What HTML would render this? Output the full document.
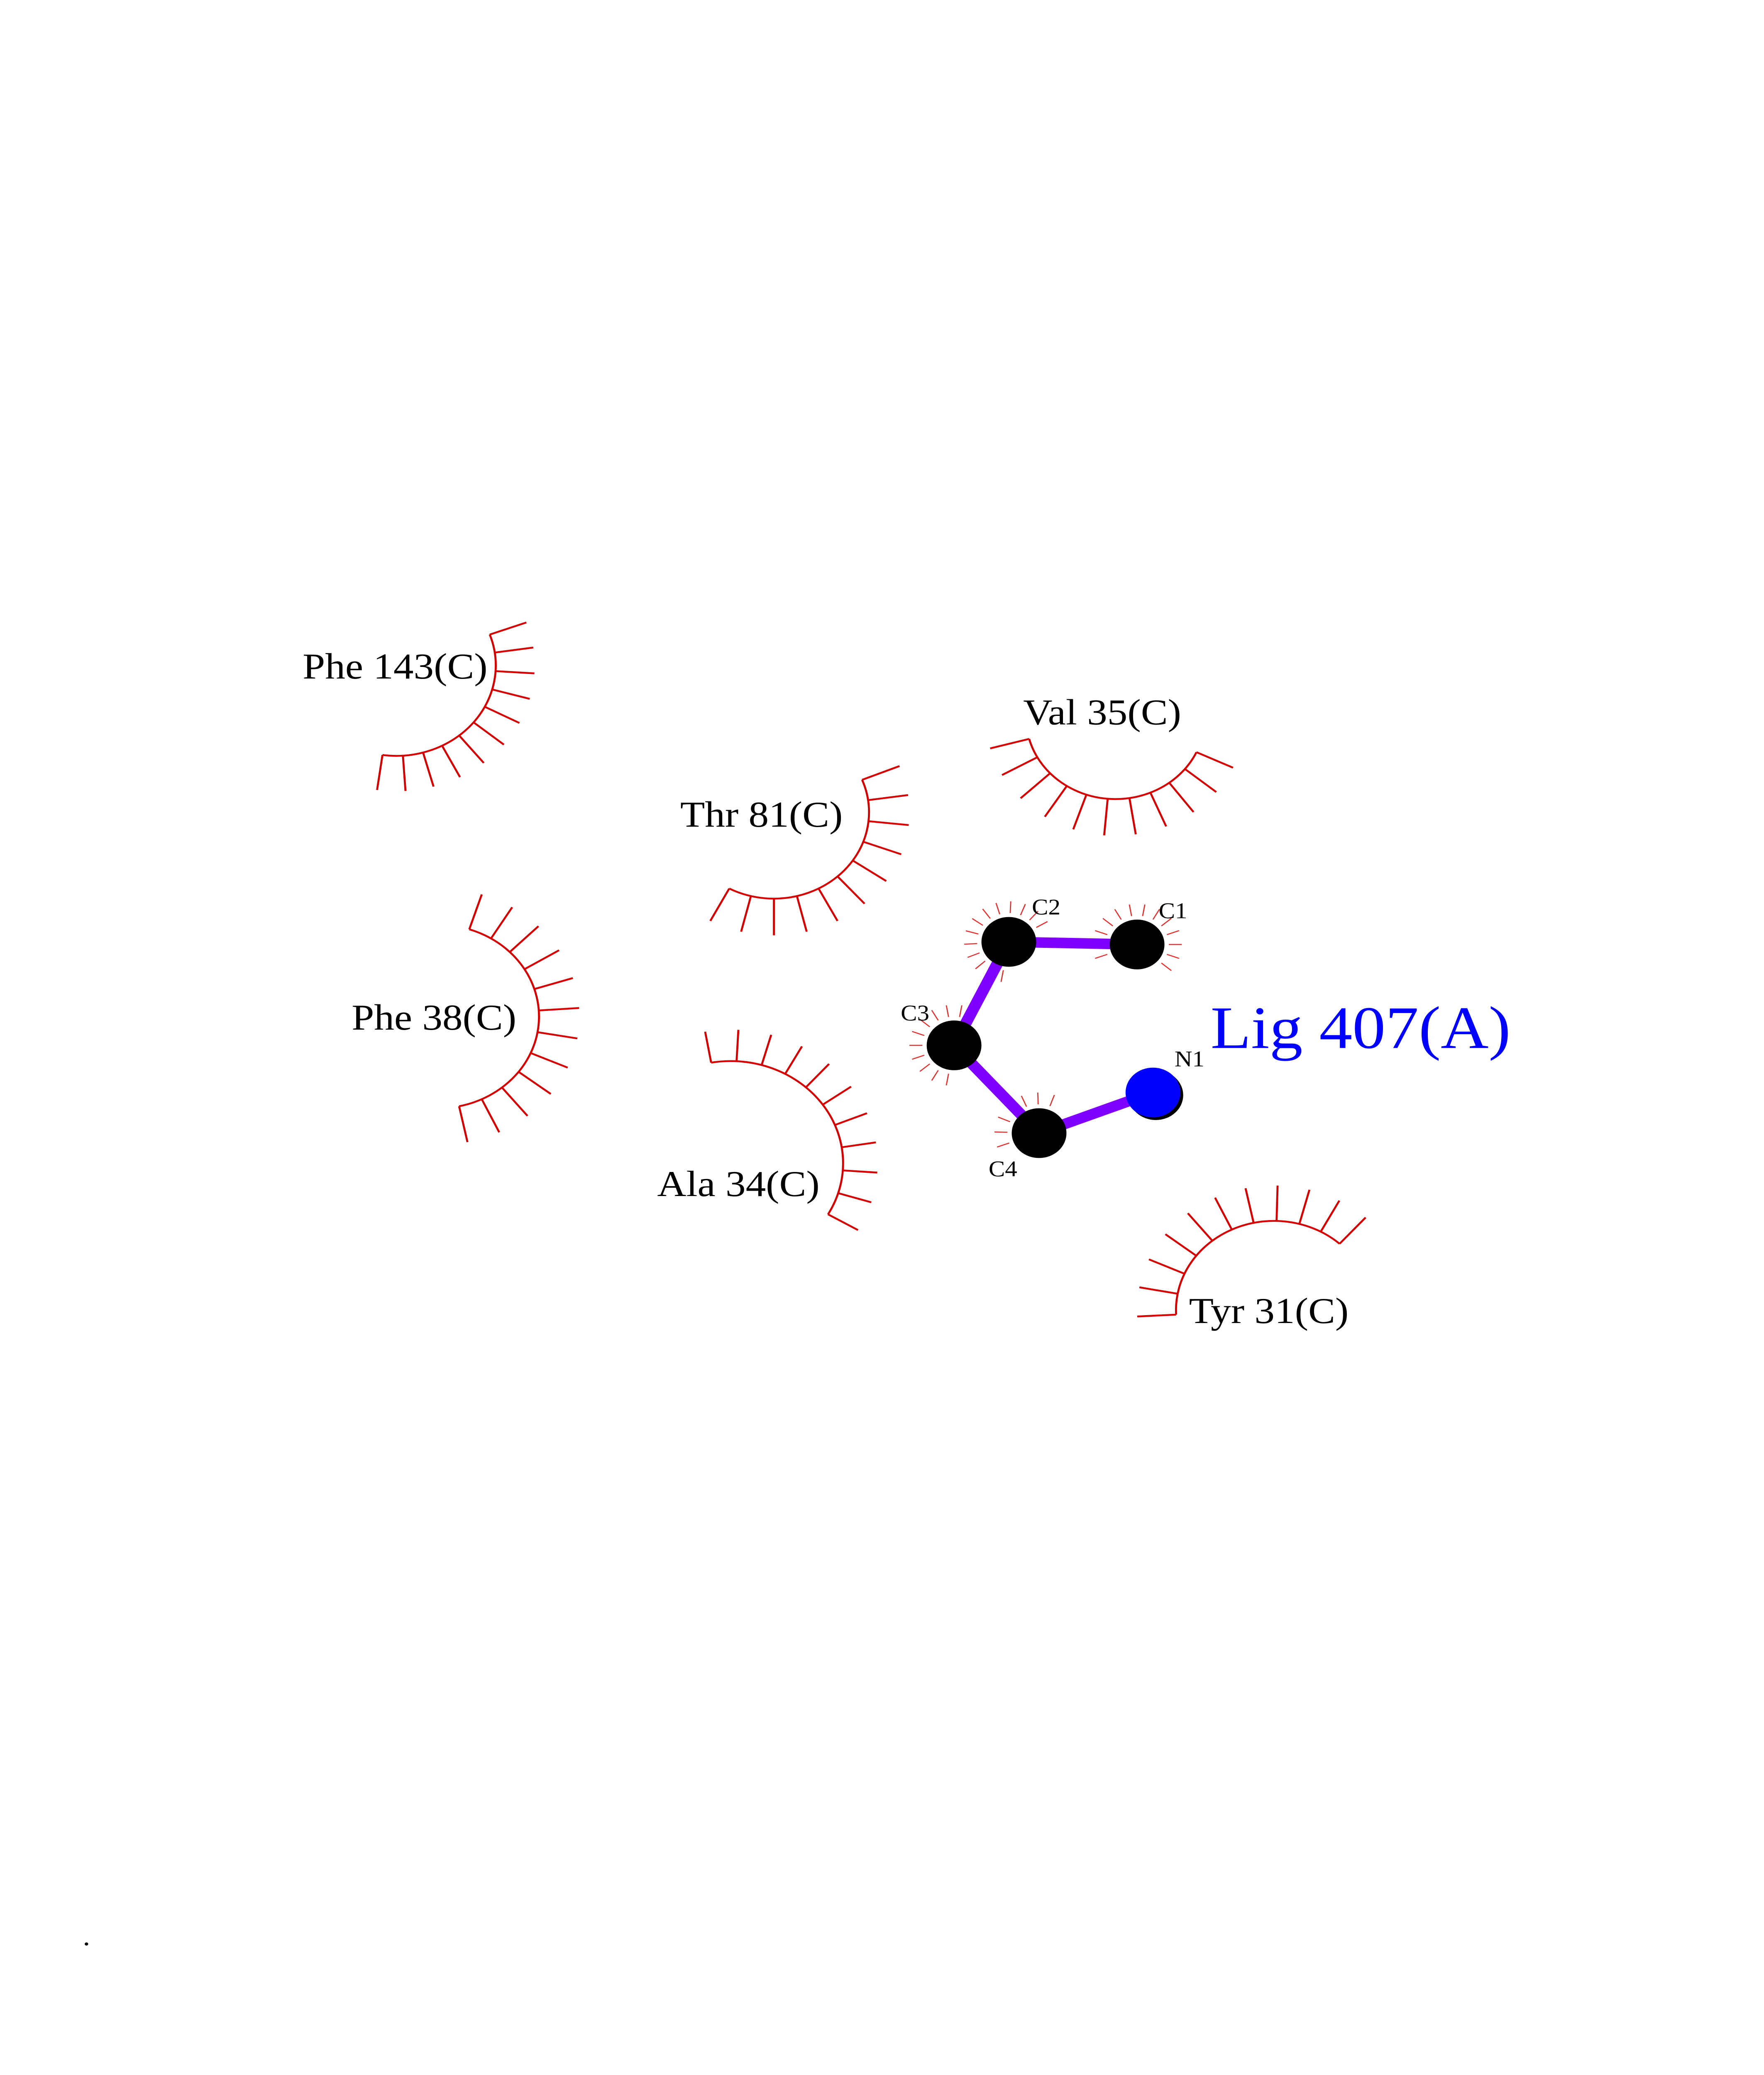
<!DOCTYPE html>
<html><head><meta charset="utf-8"><style>
html,body{margin:0;padding:0;background:#fff;width:100vw;height:100vh;overflow:hidden;}
svg{display:block;position:fixed;left:0;top:0;width:100vw;height:100vh;}
text{font-family:"Liberation Serif",serif;}
</style></head><body>
<svg id="s" xmlns="http://www.w3.org/2000/svg" viewBox="0 0 1224 1584" preserveAspectRatio="none">
<rect width="1224" height="1584" fill="#fff"/>
<g transform="translate(7,8)">
<g id="arcs" stroke="#d40000" fill="none" stroke-width="1.4"></g>
<g id="faint" stroke="#e03030" stroke-width="0.8"></g>
<g stroke="#7f00ff" stroke-width="8" stroke-linecap="round">
<line x1="693" y1="711" x2="782" y2="713"/>
<line x1="693" y1="711" x2="655" y2="790"/>
<line x1="655" y1="790" x2="714" y2="857"/>
<line x1="714" y1="857" x2="793" y2="826"/>
</g>
<circle cx="693" cy="711" r="19" fill="#000"/>
<circle cx="782" cy="713" r="19" fill="#000"/>
<circle cx="655" cy="790" r="19" fill="#000"/>
<circle cx="714" cy="857" r="19" fill="#000"/>
<circle cx="795" cy="828" r="19" fill="#000"/>
<circle cx="793" cy="826" r="19" fill="#0000ff"/>
<g font-size="17" fill="#000">
<text x="709" y="690">C2</text>
<text x="797" y="693">C1</text>
<text x="618" y="771">C3</text>
<text x="679" y="890">C4</text>
<text x="808" y="806">N1</text>
</g>
<g font-size="28" fill="#000">
<text x="203" y="510">Phe 143(C)</text>
<text x="703" y="545">Val 35(C)</text>
<text x="465" y="623">Thr 81(C)</text>
<text x="237" y="778">Phe 38(C)</text>
<text x="449" y="905">Ala 34(C)</text>
<text x="818" y="1002">Tyr 31(C)</text>
</g>
<text x="833" y="792" font-size="46" fill="#0000ff">Lig 407(A)</text>
<circle cx="53" cy="1476" r="1.2" fill="#000"/>
</g>
</svg>
<script>
var NS="http://www.w3.org/2000/svg";
function rad(d){return d*Math.PI/180;}
function arc(cx,cy,r,a0,a1,n,len){
  var g=document.getElementById("arcs");
  var p=document.createElementNS(NS,"path");
  var x0=cx+r*Math.cos(rad(a0)),y0=cy+r*Math.sin(rad(a0));
  var x1=cx+r*Math.cos(rad(a1)),y1=cy+r*Math.sin(rad(a1));
  var large=Math.abs(a1-a0)>180?1:0;var sw=a1>a0?1:0;
  p.setAttribute("d","M"+x0+" "+y0+" A"+r+" "+r+" 0 "+large+" "+sw+" "+x1+" "+y1);
  g.appendChild(p);
  for(var i=0;i<n;i++){var a=rad(a0+(a1-a0)*i/(n-1));
    var l=document.createElementNS(NS,"line");
    l.setAttribute("x1",cx+r*Math.cos(a));l.setAttribute("y1",cy+r*Math.sin(a));
    l.setAttribute("x2",cx+(r+len)*Math.cos(a));l.setAttribute("y2",cy+(r+len)*Math.sin(a));
    g.appendChild(l);}
}
arc(268,500,69,-20,98,11,27);
arc(767,540,62,165,25,11,28);
arc(530,612,66,-22,118,11,28);
arc(297,768,70,-72,78,12,28);
arc(500,880,78,-100,30,11,24);
arc(877,992,68,177,312,11,27);
function faint(cx,cy,a0,a1,n){
  var g=document.getElementById("faint");
  for(var i=0;i<n;i++){var a=rad(a0+(a1-a0)*i/(n-1));
    var l=document.createElementNS(NS,"line");
    l.setAttribute("x1",cx+22*Math.cos(a));l.setAttribute("y1",cy+22*Math.sin(a));
    l.setAttribute("x2",cx+31*Math.cos(a));l.setAttribute("y2",cy+31*Math.sin(a));
    g.appendChild(l);}
}
faint(693,711,100,330,13);
faint(782,713,-200,40,13);
faint(655,790,100,300,11);
faint(714,857,160,290,7);
</script>
</body></html>
